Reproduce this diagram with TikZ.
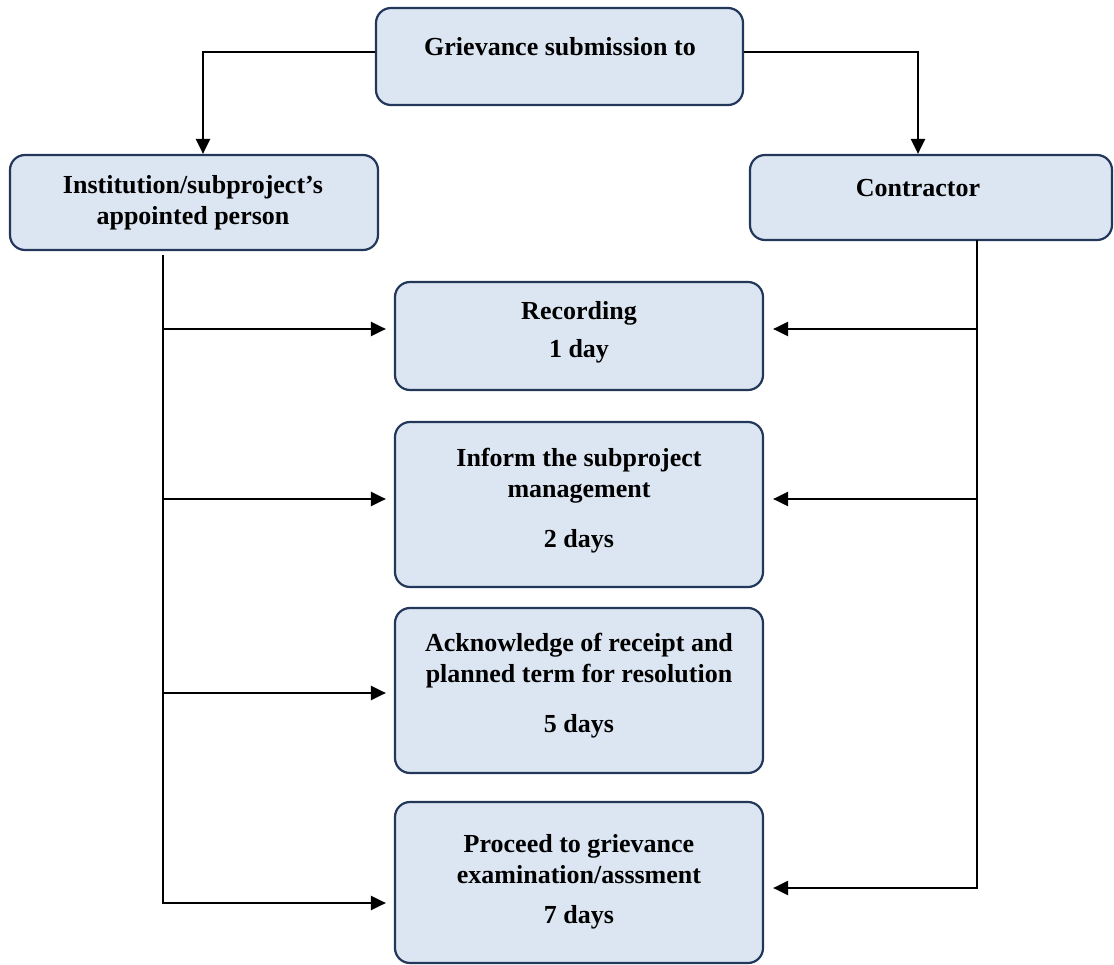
\documentclass[tikz,border=0pt]{standalone}
\usepackage{fontspec}
\setmainfont{Liberation Serif}
\usetikzlibrary{arrows.meta}
\definecolor{boxfill}{RGB}{220,230,242}
\definecolor{boxline}{RGB}{35,55,90}
\begin{document}
\begin{tikzpicture}[x=1pt,y=-1pt,
  box/.style={draw=boxline, fill=boxfill, line width=2.2pt, rounded corners=15pt, inner sep=0pt},
  lbl/.style={font=\bfseries\fontsize{26}{31}\selectfont, align=center, anchor=base, inner sep=0pt},
  conn/.style={line width=2.2pt, black, line join=miter},
  arr/.style={conn, -{Triangle[length=15pt,width=14pt]}},
]
\useasboundingbox (0,0) rectangle (1114,965);
% boxes
\node[box, minimum width=367pt, minimum height=97pt] (top) at (559.5,56.5) {};
\node[box, minimum width=368pt, minimum height=95pt] (inst) at (194,202.5) {};
\node[box, minimum width=362pt, minimum height=85pt] (con) at (931,197.5) {};
\node[box, minimum width=368pt, minimum height=108pt] (rec) at (579,336) {};
\node[box, minimum width=368pt, minimum height=165pt] (inf) at (579,504.5) {};
\node[box, minimum width=368pt, minimum height=165pt] (ack) at (579,690.5) {};
\node[box, minimum width=368pt, minimum height=161pt] (proc) at (579,882.5) {};
% texts (anchor base = baseline of last line)
\node[lbl] (ttop) at (560,56) {Grievance submission to};
\node[lbl] (tinst) at (193,225) {Institution/subproject’s\\appointed person};
\node[lbl] (tcon) at (918,197) {Contractor};
\node[lbl] (trec) at (579,358) {Recording\\[7pt]1 day};
\node[lbl] (tinf) at (579,547) {Inform the subproject\\management\\[19pt]2 days};
\node[lbl] (tack) at (579,732) {Acknowledge of receipt and\\planned term for resolution\\[19pt]5 days};
\node[lbl] (tproc) at (579,923) {Proceed to grievance\\examination/asssment\\[9pt]7 days};
% top connectors
\draw[arr] ([yshift=4.5pt]top.west) -| ([xshift=9pt]inst.north);
\draw[arr] ([yshift=4.5pt]top.east) -| ([xshift=-13pt]con.north);
% left trunk
\coordinate (lt) at (163,255);
\coordinate (l1) at (163,329);
\coordinate (l2) at (163,499);
\coordinate (l3) at (163,693);
\coordinate (l4) at (163,903);
\draw[arr, shorten >=8pt] (lt) -- (l4) -- (l4 -| proc.west);
\draw[arr, shorten >=8pt] (l1) -- (l1 -| rec.west);
\draw[arr, shorten >=8pt] (l2) -- (l2 -| inf.west);
\draw[arr, shorten >=8pt] (l3) -- (l3 -| ack.west);
% right trunk
\coordinate (rt) at (977,240);
\coordinate (r1) at (977,329);
\coordinate (r2) at (977,499);
\coordinate (r3) at (977,888);
\draw[arr, shorten >=9pt] (rt) -- (r3) -- (r3 -| proc.east);
\draw[arr, shorten >=9pt] (r1) -- (r1 -| rec.east);
\draw[arr, shorten >=9pt] (r2) -- (r2 -| inf.east);
\end{tikzpicture}
\end{document}
